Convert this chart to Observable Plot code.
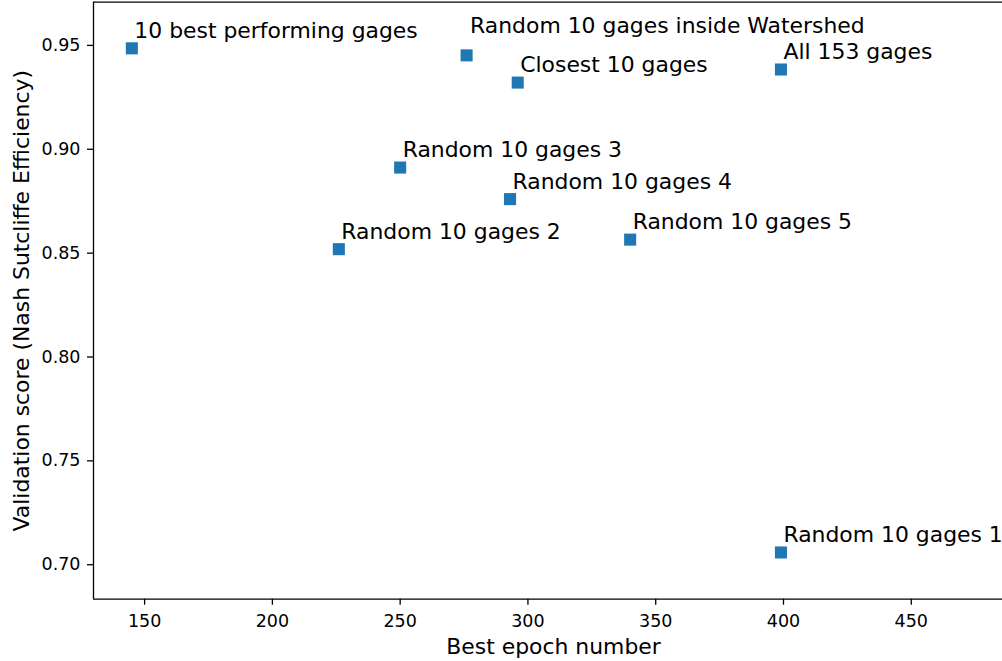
<!DOCTYPE html>
<html>
<head>
<meta charset="utf-8">
<script src="https://cdn.jsdelivr.net/npm/d3@7"></script>
<script src="https://cdn.jsdelivr.net/npm/@observablehq/plot@0.6"></script>
<style>
  html, body { margin: 0; padding: 0; background: #fff; }
  #chart svg { display: block; }
</style>
</head>
<body>
<div id="chart"></div>
<script>
const labels = [
  "10 best performing gages",
  "Random 10 gages inside Watershed",
  "Closest 10 gages",
  "All 153 gages",
  "Random 10 gages 3",
  "Random 10 gages 4",
  "Random 10 gages 2",
  "Random 10 gages 5",
  "Random 10 gages 1"
];
const epochs = [145, 276, 296, 399, 250, 293, 226, 340, 399];
const scores = [0.9486, 0.9452, 0.9321, 0.9384, 0.8912, 0.8760, 0.8519, 0.8565, 0.7059];
const xTicks = [150, 200, 250, 300, 350, 400, 450];
const yTicks = [0.70, 0.75, 0.80, 0.85, 0.90, 0.95];
const xLimits = [130, 485.7];
const yLimits = [0.6834, 0.9708];
const xTitle = "Best epoch number";
const yTitle = "Validation score (Nash Sutcliffe Efficiency)";
const raisedLabel = "Random 10 gages inside Watershed";

const data = labels.map((label, i) => ({label, epoch: epochs[i], score: scores[i]}));
const normal = data.filter(d => d.label !== raisedLabel);
const raised = data.filter(d => d.label === raisedLabel);

const chart = Plot.plot({
  width: 1002,
  height: 661,
  marginLeft: 93,
  marginRight: 0,
  marginTop: 1.7,
  marginBottom: 62.3,
  style: {fontFamily: "DejaVu Sans", background: "#fff", color: "black"},
  x: {domain: xLimits},
  y: {domain: yLimits},
  marks: [
    Plot.axisX(xTicks, {tickSize: 6, tickPadding: 9, fontSize: 17.5, label: null, stroke: "black", strokeWidth: 1.3, strokeOpacity: 1, fill: "black"}),
    Plot.axisY(yTicks, {tickSize: 6, tickPadding: 7, fontSize: 17.5, label: null, tickFormat: d3.format(".2f"), stroke: "black", strokeWidth: 1.3, strokeOpacity: 1, fill: "black"}),
    Plot.ruleY([yLimits[0]], {stroke: "black", strokeWidth: 1.3}),
    Plot.ruleY([yLimits[1]], {stroke: "black", strokeWidth: 1.3}),
    Plot.ruleX([xLimits[0]], {stroke: "black", strokeWidth: 1.3}),
    Plot.dot(data, {x: "epoch", y: "score", symbol: "square", r: 6.8, fill: "#1f77b4", stroke: "none"}),
    Plot.text(normal, {x: "epoch", y: "score", text: "label", textAnchor: "start", lineAnchor: "bottom", dx: 2.5, dy: -10.5, fontSize: 21.9, fill: "black"}),
    Plot.text(raised, {x: "epoch", y: "score", text: "label", textAnchor: "start", lineAnchor: "bottom", dx: 3.5, dy: -22, fontSize: 21.9, fill: "black"}),
    Plot.text([xTitle], {frameAnchor: "bottom", textAnchor: "middle", lineAnchor: "bottom", dx: 5.5, dy: 54.3, fontSize: 21.9, fill: "black"}),
    Plot.text([yTitle], {frameAnchor: "left", textAnchor: "middle", rotate: -90, lineAnchor: "bottom", dx: -64.5, fontSize: 21.9, fill: "black"})
  ]
});
document.getElementById("chart").appendChild(chart);
</script>
</body>
</html>
